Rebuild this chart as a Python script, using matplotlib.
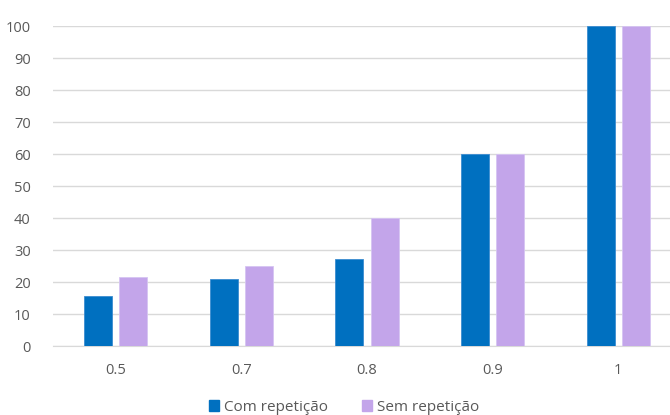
import numpy as np
import matplotlib.pyplot as plt
from matplotlib.patches import Patch

# chart values
categorias = ["0.5", "0.7", "0.8", "0.9", "1"]
com_repeticao = [15.6, 20.8, 27.2, 60, 100]
sem_repeticao = [21.7, 24.9, 40, 60, 100]

cor_com = "#0070C0"
cor_sem = "#C3A5EA"
cinza = "#595959"

plt.rcParams['font.family'] = ['Open Sans', 'DejaVu Sans']

fig = plt.figure(figsize=(6.7, 4.15), dpi=100)
ax = fig.add_axes([53 / 670, 1 - 346 / 415, 628 / 670, 320 / 415])

x = np.arange(len(categorias))
w = 0.223
ax.bar(x - 0.14, com_repeticao, w, color=cor_com, edgecolor="#3C8CD0", linewidth=0.6, zorder=3)
ax.bar(x + 0.14, sem_repeticao, w, color=cor_sem, edgecolor="#D6C4F2", linewidth=0.6, zorder=3)

ax.set_xlim(-0.5, 4.5)
ax.set_ylim(0, 100)
ax.set_yticks(range(0, 101, 10))
ax.set_xticks(x)
ax.set_xticklabels(categorias)

ax.grid(axis="y", color="#D9D9D9", linewidth=1, zorder=0)
ax.set_axisbelow(True)
for s in ax.spines.values():
    s.set_visible(False)
ax.spines["bottom"].set_visible(True)
ax.spines["bottom"].set_color("#D9D9D9")
ax.tick_params(length=0, labelsize=10.5, colors=cinza)
ax.tick_params(axis="x", pad=12)
ax.tick_params(axis="y", pad=16)
for lbl in ax.get_yticklabels():
    lbl.set_horizontalalignment("right")

handles = [Patch(color=cor_com, label="Com repetição"),
           Patch(color=cor_sem, label="Sem repetição")]
fig.legend(handles=handles, loc="center", bbox_to_anchor=(344 / 670, 1 - 407 / 415),
           ncol=2, frameon=False, fontsize=11, labelcolor=cinza,
           handlelength=0.7, handleheight=0.7, handletextpad=0.3, columnspacing=2.2)

fig.savefig("out.png", dpi=100)
